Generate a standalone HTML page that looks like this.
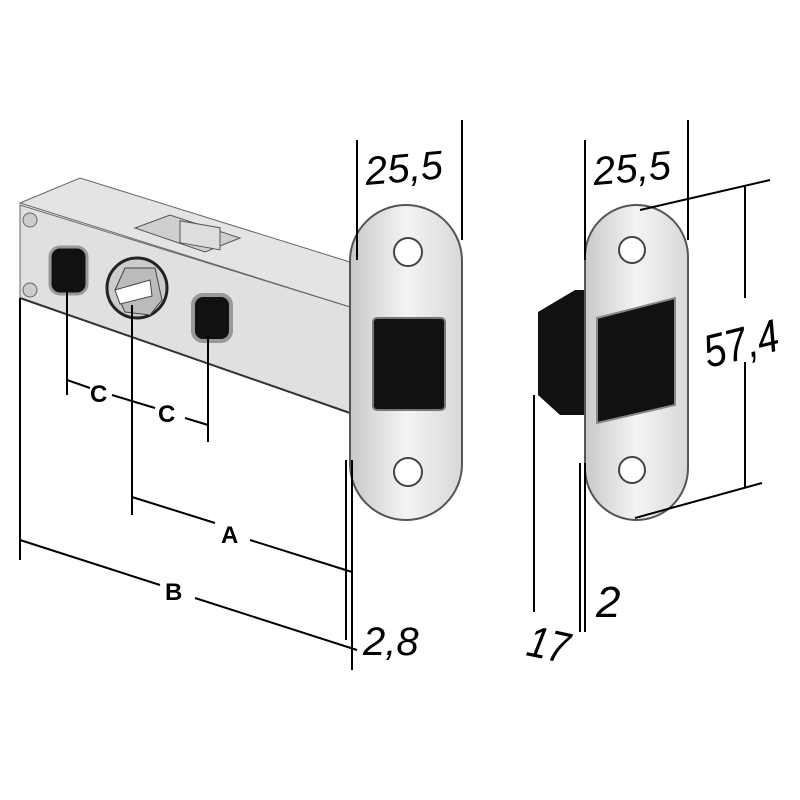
<!DOCTYPE html>
<html><head><meta charset="utf-8"><style>body{margin:0;background:#fff}svg{display:block}text{font-family:"Liberation Sans",sans-serif}</style></head><body>
<svg width="800" height="800" viewBox="0 0 800 800">
<defs>
<linearGradient id="g1" x1="0" x2="1"><stop offset="0" stop-color="#c8c8c8"/><stop offset="0.5" stop-color="#f4f4f4"/><stop offset="1" stop-color="#d8d8d8"/></linearGradient>
</defs>
<polygon points="20,203 80,178 350,262 350,307" fill="#e4e4e4" stroke="#666" stroke-width="1"/>
<line x1="20" y1="210" x2="350" y2="313" stroke="#999" stroke-width="3"/>
<polygon points="20,205 350,307 350,413 20,298" fill="#e0e0e0" stroke="#666" stroke-width="1"/>
<line x1="20" y1="298" x2="350" y2="413" stroke="#333" stroke-width="2"/>
<polygon points="135,228 170,215 240,238 205,252" fill="#cfcfcf" stroke="#555"/>
<rect x="180" y="222" width="40" height="22" fill="#ddd" stroke="#555" transform="skewY(10) translate(0,-33)"/>
<circle cx="30" cy="220" r="7" fill="#ccc" stroke="#666"/>
<circle cx="30" cy="290" r="7" fill="#ccc" stroke="#666"/>
<rect x="50" y="247" width="37" height="47" rx="10" fill="#111" stroke="#999" stroke-width="3"/>
<rect x="193" y="295" width="38" height="46" rx="10" fill="#111" stroke="#999" stroke-width="4"/>
<circle cx="137" cy="288" r="30" fill="#ccc" stroke="#222" stroke-width="3"/>
<polygon points="115,290 125,268 155,268 162,300 150,315 125,312" fill="#bbb" stroke="#444"/>
<polygon points="115,290 150,280 152,296 120,304" fill="#fff" stroke="#444"/>
<rect x="350" y="205" width="112" height="315" rx="56" fill="url(#g1)" stroke="#555" stroke-width="2"/>
<circle cx="408" cy="252" r="14" fill="#fff" stroke="#444" stroke-width="2"/>
<circle cx="408" cy="472" r="14" fill="#fff" stroke="#444" stroke-width="2"/>
<rect x="373" y="318" width="72" height="92" rx="4" fill="#111" stroke="#777" stroke-width="2"/>
<polygon points="538,312 575,290 590,290 590,415 560,415 538,395" fill="#111"/>
<rect x="585" y="205" width="103" height="315" rx="52" fill="url(#g1)" stroke="#555" stroke-width="2"/>
<circle cx="632" cy="250" r="13" fill="#fff" stroke="#444" stroke-width="2"/>
<circle cx="632" cy="470" r="13" fill="#fff" stroke="#444" stroke-width="2"/>
<polygon points="597,318 675,298 675,405 597,423" fill="#111" stroke="#888" stroke-width="2"/>
<g stroke="#000" stroke-width="2" fill="none">
<line x1="20" y1="298" x2="20" y2="560"/>
<line x1="67" y1="290" x2="67" y2="395"/>
<line x1="132" y1="305" x2="132" y2="515"/>
<line x1="208" y1="335" x2="208" y2="442"/>
<line x1="67" y1="380" x2="90" y2="388"/><line x1="112" y1="395" x2="155" y2="408"/><line x1="185" y1="418" x2="208" y2="425"/>
<line x1="132" y1="497" x2="215" y2="523"/><line x1="250" y1="540" x2="352" y2="572"/>
<line x1="20" y1="540" x2="160" y2="585"/><line x1="195" y1="598" x2="357" y2="650"/>
<line x1="352" y1="460" x2="352" y2="670"/>
<line x1="346" y1="460" x2="346" y2="640"/>
<line x1="357" y1="140" x2="357" y2="260"/>
<line x1="462" y1="120" x2="462" y2="240"/>
<line x1="585" y1="140" x2="585" y2="260"/>
<line x1="688" y1="120" x2="688" y2="240"/>
<line x1="640" y1="210" x2="770" y2="180"/>
<line x1="635" y1="518" x2="762" y2="483"/>
<line x1="745" y1="185" x2="745" y2="298"/>
<line x1="745" y1="362" x2="745" y2="487"/>
<line x1="534" y1="395" x2="534" y2="612"/>
<line x1="580" y1="463" x2="580" y2="632"/>
<line x1="585" y1="463" x2="585" y2="632"/>
</g>
<g font-weight="bold" font-size="24">
<text x="90" y="402">C</text><text x="158" y="422">C</text>
<text x="221" y="543">A</text><text x="165" y="600">B</text>
</g>
<g font-size="40" font-style="italic">
<text x="365" y="182" transform="rotate(-5 400 170)">25,5</text>
<text x="593" y="182" transform="rotate(-5 630 170)">25,5</text>
<text x="363" y="655">2,8</text>
<text x="0" y="0" font-size="46" transform="translate(708,368) rotate(-14) scale(0.85,1)">57,4</text>
<text x="0" y="0" font-size="44" transform="translate(525,655) rotate(12) scale(0.85,1)">17</text>
<text x="596" y="617" font-size="44">2</text>
</g>
</svg>
</body></html>
